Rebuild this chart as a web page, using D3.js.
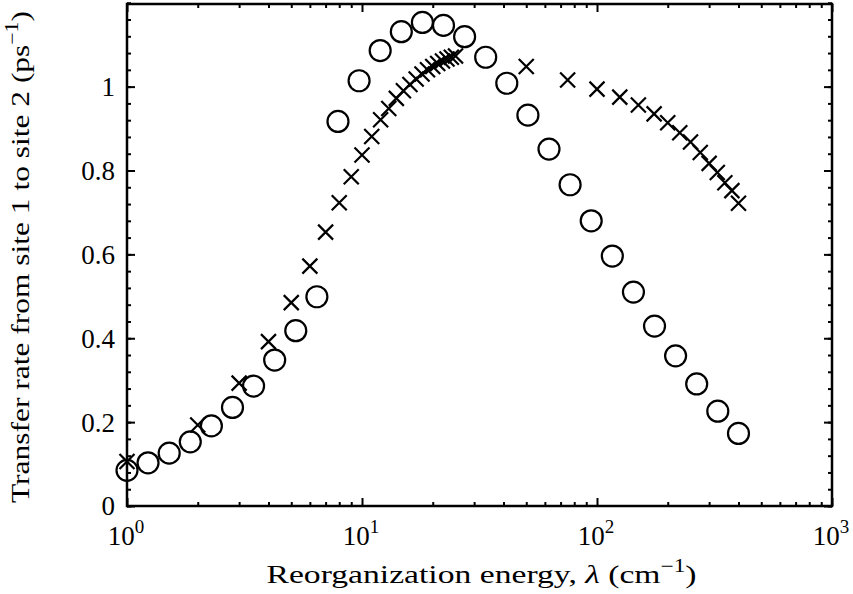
<!DOCTYPE html>
<html>
<head>
    <title>Transfer rate vs reorganization energy</title>
    <script src="https://d3js.org/d3.v7.min.js"></script>
    <style>
        body { margin: 0; background: #fff; }
        .axis path, .axis line { stroke: #000; }
    </style>
</head>
<body>
    <svg width="853" height="594"></svg>

    <script>
        // Circles: values
        var circleX = [1, 1.229, 1.512, 1.859, 2.286, 2.811, 3.456, 4.25, 5.226, 6.427,
                       7.903, 9.718, 11.95, 14.70, 18.07, 22.22, 27.33, 33.60, 41.32, 50.81,
                       62.48, 76.83, 94.48, 116.2, 142.9, 175.7, 216.0, 265.6, 326.6, 400];
        var circleY = [0.085, 0.103, 0.126, 0.153, 0.191, 0.235, 0.286, 0.348, 0.418, 0.499,
                       0.917, 1.014, 1.086, 1.131, 1.153, 1.146, 1.119, 1.070, 1.008, 0.932,
                       0.851, 0.766, 0.680, 0.596, 0.510, 0.429, 0.358, 0.291, 0.226, 0.173];

        // Crosses
        var crossX = [1, 2, 3, 4, 5, 6, 7, 8, 9, 10, 11, 12, 13, 14, 15, 16, 17, 18, 19, 20,
                      21, 22, 23, 24, 25,
                      50, 75, 100, 125, 150, 175, 200, 225, 250, 275, 300, 325, 350, 375, 400];
        var crossY = [0.106, 0.193, 0.293, 0.392, 0.485, 0.572, 0.653, 0.723, 0.785, 0.837,
                      0.881, 0.921, 0.948, 0.972, 0.990, 1.005, 1.018, 1.030, 1.040, 1.048,
                      1.055, 1.061, 1.066, 1.070, 1.073,
                      1.048, 1.016, 0.994, 0.975, 0.956, 0.935, 0.914, 0.890, 0.868, 0.843,
                      0.817, 0.795, 0.771, 0.752, 0.722];

        // Tick labels
        var xTicks = [1, 10, 100, 1000];
        var xTickExp = ["0", "1", "2", "3"];
        var yTicks = [0, 0.2, 0.4, 0.6, 0.8, 1];
        var yTickLabels = ["0", "0.2", "0.4", "0.6", "0.8", "1"];
        var yMinor = d3.range(0, 1.2001, 0.04);

        var font = "'Liberation Serif', 'DejaVu Serif', serif";

        var margin = {top: 4, right: 21, bottom: 88, left: 127},
            width = 853 - margin.left - margin.right,
            height = 594 - margin.top - margin.bottom;

        var x = d3.scaleLog().domain([1, 1000]).range([0, width]);
        var y = d3.scaleLinear().domain([0, 1.197]).range([height, 0]);

        var svg = d3.select("svg")
          .append("g")
            .attr("transform", "translate(" + margin.left + "," + margin.top + ")");

        var xMinor = [];
        [1, 10, 100].forEach(function(d) {
            for (var k = 2; k <= 9; k++) xMinor.push(d * k);
        });

        // minor ticks (all four sides)
        function minorAxis(axis, ticks, tr) {
            svg.append("g").attr("class", "axis").attr("transform", tr)
                .call(axis.tickValues(ticks).tickSize(-4).tickFormat(""))
                .call(function(g) { g.select(".domain").remove(); })
                .selectAll("line").attr("stroke-width", 2);
        }
        minorAxis(d3.axisBottom(x), xMinor, "translate(0," + height + ")");
        minorAxis(d3.axisTop(x), xMinor, "translate(0,0)");
        minorAxis(d3.axisLeft(y), yMinor, "translate(0,0)");
        minorAxis(d3.axisRight(y), yMinor, "translate(" + width + ",0)");

        // major ticks
        function majorAxis(axis, ticks, tr) {
            return svg.append("g").attr("class", "axis").attr("transform", tr)
                .call(axis.tickValues(ticks).tickSizeInner(-8).tickSizeOuter(0).tickFormat(""))
                .call(function(g) {
                    g.select(".domain").remove();
                    g.selectAll("line").attr("stroke-width", 2);
                });
        }
        majorAxis(d3.axisBottom(x), xTicks, "translate(0," + height + ")");
        majorAxis(d3.axisTop(x), xTicks, "translate(0,0)");
        majorAxis(d3.axisLeft(y), yTicks, "translate(0,0)");
        majorAxis(d3.axisRight(y), yTicks, "translate(" + width + ",0)");

        // box
        svg.append("rect")
            .attr("width", width).attr("height", height)
            .attr("fill", "none").attr("stroke", "#000").attr("stroke-width", 2.5);

        // x tick labels 10^n
        var xl = svg.append("g").selectAll("text").data(xTicks).enter().append("text")
            .attr("x", function(d) { return x(d) - 1; })
            .attr("y", height + 39)
            .attr("text-anchor", "middle")
            .attr("font-family", font)
            .attr("font-size", 27);
        xl.append("tspan").text("10");
        xl.append("tspan").attr("dy", -12).attr("font-size", 19)
            .text(function(d, i) { return xTickExp[i]; });

        // y tick labels
        svg.append("g").selectAll("text").data(yTicks).enter().append("text")
            .attr("x", -12)
            .attr("y", function(d) { return y(d); })
            .attr("dy", "0.35em")
            .attr("text-anchor", "end")
            .attr("font-family", font)
            .attr("font-size", 27)
            .text(function(d, i) { return yTickLabels[i]; });

        // circles
        svg.append("g").selectAll("circle").data(circleX).enter().append("circle")
            .attr("cx", function(d) { return x(d); })
            .attr("cy", function(d, i) { return y(circleY[i]); })
            .attr("r", 10.5)
            .attr("fill", "none")
            .attr("stroke", "#000")
            .attr("stroke-width", 2.2);

        // crosses
        var s = 7.5;
        svg.append("g").selectAll("path").data(crossX).enter().append("path")
            .attr("transform", function(d, i) {
                return "translate(" + x(d) + "," + y(crossY[i]) + ")";
            })
            .attr("d", "M" + (-s) + "," + (-s) + "L" + s + "," + s +
                       "M" + (-s) + "," + s + "L" + s + "," + (-s))
            .attr("stroke", "#000")
            .attr("stroke-width", 2.2)
            .attr("fill", "none");

        // x label
        var xt = svg.append("text")
            .attr("x", width / 2 + 2)
            .attr("y", height + 77)
            .attr("text-anchor", "middle")
            .attr("textLength", 430)
            .attr("lengthAdjust", "spacingAndGlyphs")
            .attr("font-family", font)
            .attr("font-size", 26);
        xt.append("tspan").text("Reorganization energy, ");
        xt.append("tspan").attr("font-style", "italic").text("λ");
        xt.append("tspan").text(" (cm");
        xt.append("tspan").attr("dy", -11).attr("font-size", 18).text("−1");
        xt.append("tspan").attr("dy", 11).text(")");

        // y label
        var yt = svg.append("text")
            .attr("transform", "translate(" + (-98) + "," + (height / 2 + 2) + ") rotate(-90)")
            .attr("text-anchor", "middle")
            .attr("textLength", 492)
            .attr("lengthAdjust", "spacingAndGlyphs")
            .attr("font-family", font)
            .attr("font-size", 26);
        yt.append("tspan").text("Transfer rate from site 1 to site 2 (ps");
        yt.append("tspan").attr("dy", -11).attr("font-size", 18).text("−1");
        yt.append("tspan").attr("dy", 11).text(")");
    </script>
</body>
</html>
